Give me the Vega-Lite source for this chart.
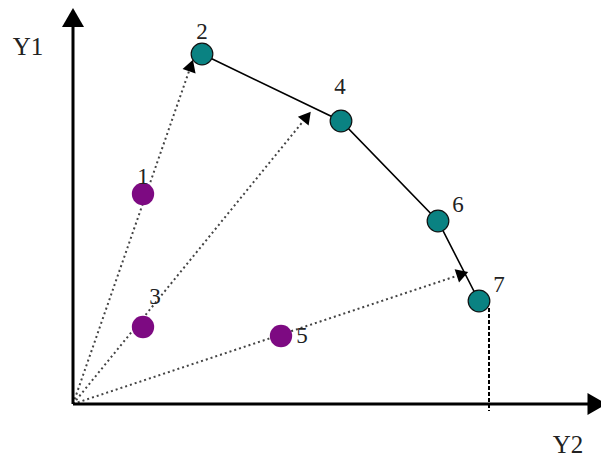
{
  "$schema": "https://vega.github.io/schema/vega-lite/v6.json",
  "width": 601,
  "height": 457,
  "autosize": {"type": "none"},
  "padding": 0,
  "background": "white",
  "config": {"view": {"stroke": null}},
  "datasets": {
    "pts": [
      {"id": 1, "group": "a", "Y2": 70, "Y1": 210},
      {"id": 2, "group": "b", "Y2": 129, "Y1": 350},
      {"id": 3, "group": "a", "Y2": 70, "Y1": 77},
      {"id": 4, "group": "b", "Y2": 268, "Y1": 283},
      {"id": 5, "group": "a", "Y2": 208, "Y1": 68},
      {"id": 6, "group": "b", "Y2": 365, "Y1": 183},
      {"id": 7, "group": "b", "Y2": 406, "Y1": 103}
    ],
    "arrows": [
      {"id": "a1", "x0": 0, "y0": 0, "x1": 118, "y1": 338.5},
      {"id": "a2", "x0": 0, "y0": 0, "x1": 234, "y1": 287.5},
      {"id": "a3", "x0": 0, "y0": 0, "x1": 389.5, "y1": 130}
    ],
    "axes": [
      {"id": "Y1", "x0": 0, "y0": 0, "x1": 0, "y1": 386.5, "tx": -45, "ty": 357},
      {"id": "Y2", "x0": 0, "y0": 0, "x1": 524, "y1": 0, "tx": 495, "ty": -41}
    ],
    "drop": [
      {"x0": 416, "y0": 96, "x1": 416, "y1": -7}
    ]
  },
  "encoding": {
    "x": {"type": "quantitative", "scale": {"domain": [-73, 528], "nice": false, "zero": false}, "axis": null},
    "y": {"type": "quantitative", "scale": {"domain": [-53, 404], "nice": false, "zero": false}, "axis": null}
  },
  "layer": [
    {
      "data": {"name": "arrows"},
      "mark": {"type": "rule", "color": "#444444", "strokeWidth": 2, "strokeDash": [2, 3]},
      "encoding": {"x": {"field": "x0"}, "y": {"field": "y0"}, "x2": {"field": "x1"}, "y2": {"field": "y1"}}
    },
    {
      "data": {"name": "drop"},
      "mark": {"type": "rule", "color": "#000000", "strokeWidth": 2, "strokeDash": [4, 2]},
      "encoding": {"x": {"field": "x0"}, "y": {"field": "y0"}, "x2": {"field": "x1"}, "y2": {"field": "y1"}}
    },
    {
      "data": {"name": "axes"},
      "mark": {"type": "rule", "color": "black", "strokeWidth": 3},
      "encoding": {"x": {"field": "x0"}, "y": {"field": "y0"}, "x2": {"field": "x1"}, "y2": {"field": "y1"}}
    },
    {
      "data": {"name": "axes"},
      "transform": [{"filter": "datum.id == 'Y1'"}],
      "mark": {"type": "point", "shape": "triangle-up", "filled": true, "color": "black", "size": 484, "opacity": 1, "angle": 0},
      "encoding": {"x": {"field": "x1"}, "y": {"field": "y1"}}
    },
    {
      "data": {"name": "axes"},
      "transform": [{"filter": "datum.id == 'Y2'"}],
      "mark": {"type": "point", "shape": "triangle-up", "filled": true, "color": "black", "size": 484, "opacity": 1, "angle": 90},
      "encoding": {"x": {"field": "x1"}, "y": {"field": "y1"}}
    },
    {
      "data": {"name": "axes"},
      "mark": {"type": "text", "font": "Liberation Serif", "fontSize": 25, "color": "#222222", "align": "center", "baseline": "middle"},
      "encoding": {"x": {"field": "tx"}, "y": {"field": "ty"}, "text": {"field": "id"}}
    },
    {
      "data": {"name": "arrows"},
      "transform": [{"filter": "datum.id == 'a1'"}],
      "mark": {"type": "point", "shape": "triangle-up", "filled": true, "color": "black", "size": 190, "opacity": 1, "angle": 19},
      "encoding": {"x": {"field": "x1"}, "y": {"field": "y1"}}
    },
    {
      "data": {"name": "arrows"},
      "transform": [{"filter": "datum.id == 'a2'"}],
      "mark": {"type": "point", "shape": "triangle-up", "filled": true, "color": "black", "size": 190, "opacity": 1, "angle": 39},
      "encoding": {"x": {"field": "x1"}, "y": {"field": "y1"}}
    },
    {
      "data": {"name": "arrows"},
      "transform": [{"filter": "datum.id == 'a3'"}],
      "mark": {"type": "point", "shape": "triangle-up", "filled": true, "color": "black", "size": 190, "opacity": 1, "angle": 71.5},
      "encoding": {"x": {"field": "x1"}, "y": {"field": "y1"}}
    },
    {
      "data": {"name": "pts"},
      "transform": [{"filter": "datum.group == 'b'"}],
      "mark": {"type": "line", "color": "black", "strokeWidth": 1.6},
      "encoding": {"x": {"field": "Y2"}, "y": {"field": "Y1"}, "order": {"field": "id"}}
    },
    {
      "data": {"name": "pts"},
      "transform": [{"filter": "datum.group == 'a'"}],
      "mark": {"type": "point", "shape": "circle", "filled": true, "color": "#7d0a82", "size": 500, "opacity": 1},
      "encoding": {"x": {"field": "Y2"}, "y": {"field": "Y1"}}
    },
    {
      "data": {"name": "pts"},
      "transform": [{"filter": "datum.group == 'b'"}],
      "mark": {"type": "point", "shape": "circle", "filled": true, "fill": "#0a8282", "stroke": "#111111", "strokeWidth": 1.2, "size": 470, "opacity": 1},
      "encoding": {"x": {"field": "Y2"}, "y": {"field": "Y1"}}
    },
    {
      "data": {"name": "pts"},
      "transform": [{"filter": "datum.id == 1"}],
      "mark": {"type": "text", "font": "Liberation Serif", "fontSize": 23, "color": "#222222", "align": "center", "baseline": "middle", "dy": -17},
      "encoding": {"x": {"field": "Y2"}, "y": {"field": "Y1"}, "text": {"field": "id"}}
    },
    {
      "data": {"name": "pts"},
      "transform": [{"filter": "datum.id == 2"}],
      "mark": {"type": "text", "font": "Liberation Serif", "fontSize": 23, "color": "#222222", "align": "center", "baseline": "middle", "dy": -22},
      "encoding": {"x": {"field": "Y2"}, "y": {"field": "Y1"}, "text": {"field": "id"}}
    },
    {
      "data": {"name": "pts"},
      "transform": [{"filter": "datum.id == 3"}],
      "mark": {"type": "text", "font": "Liberation Serif", "fontSize": 23, "color": "#222222", "align": "center", "baseline": "middle", "dx": 12, "dy": -30},
      "encoding": {"x": {"field": "Y2"}, "y": {"field": "Y1"}, "text": {"field": "id"}}
    },
    {
      "data": {"name": "pts"},
      "transform": [{"filter": "datum.id == 4"}],
      "mark": {"type": "text", "font": "Liberation Serif", "fontSize": 23, "color": "#222222", "align": "center", "baseline": "middle", "dx": -1, "dy": -34},
      "encoding": {"x": {"field": "Y2"}, "y": {"field": "Y1"}, "text": {"field": "id"}}
    },
    {
      "data": {"name": "pts"},
      "transform": [{"filter": "datum.id == 5"}],
      "mark": {"type": "text", "font": "Liberation Serif", "fontSize": 23, "color": "#222222", "align": "center", "baseline": "middle", "dx": 21, "dy": 0},
      "encoding": {"x": {"field": "Y2"}, "y": {"field": "Y1"}, "text": {"field": "id"}}
    },
    {
      "data": {"name": "pts"},
      "transform": [{"filter": "datum.id == 6 || datum.id == 7"}],
      "mark": {"type": "text", "font": "Liberation Serif", "fontSize": 23, "color": "#222222", "align": "center", "baseline": "middle", "dx": 20, "dy": -16},
      "encoding": {"x": {"field": "Y2"}, "y": {"field": "Y1"}, "text": {"field": "id"}}
    }
  ]
}
